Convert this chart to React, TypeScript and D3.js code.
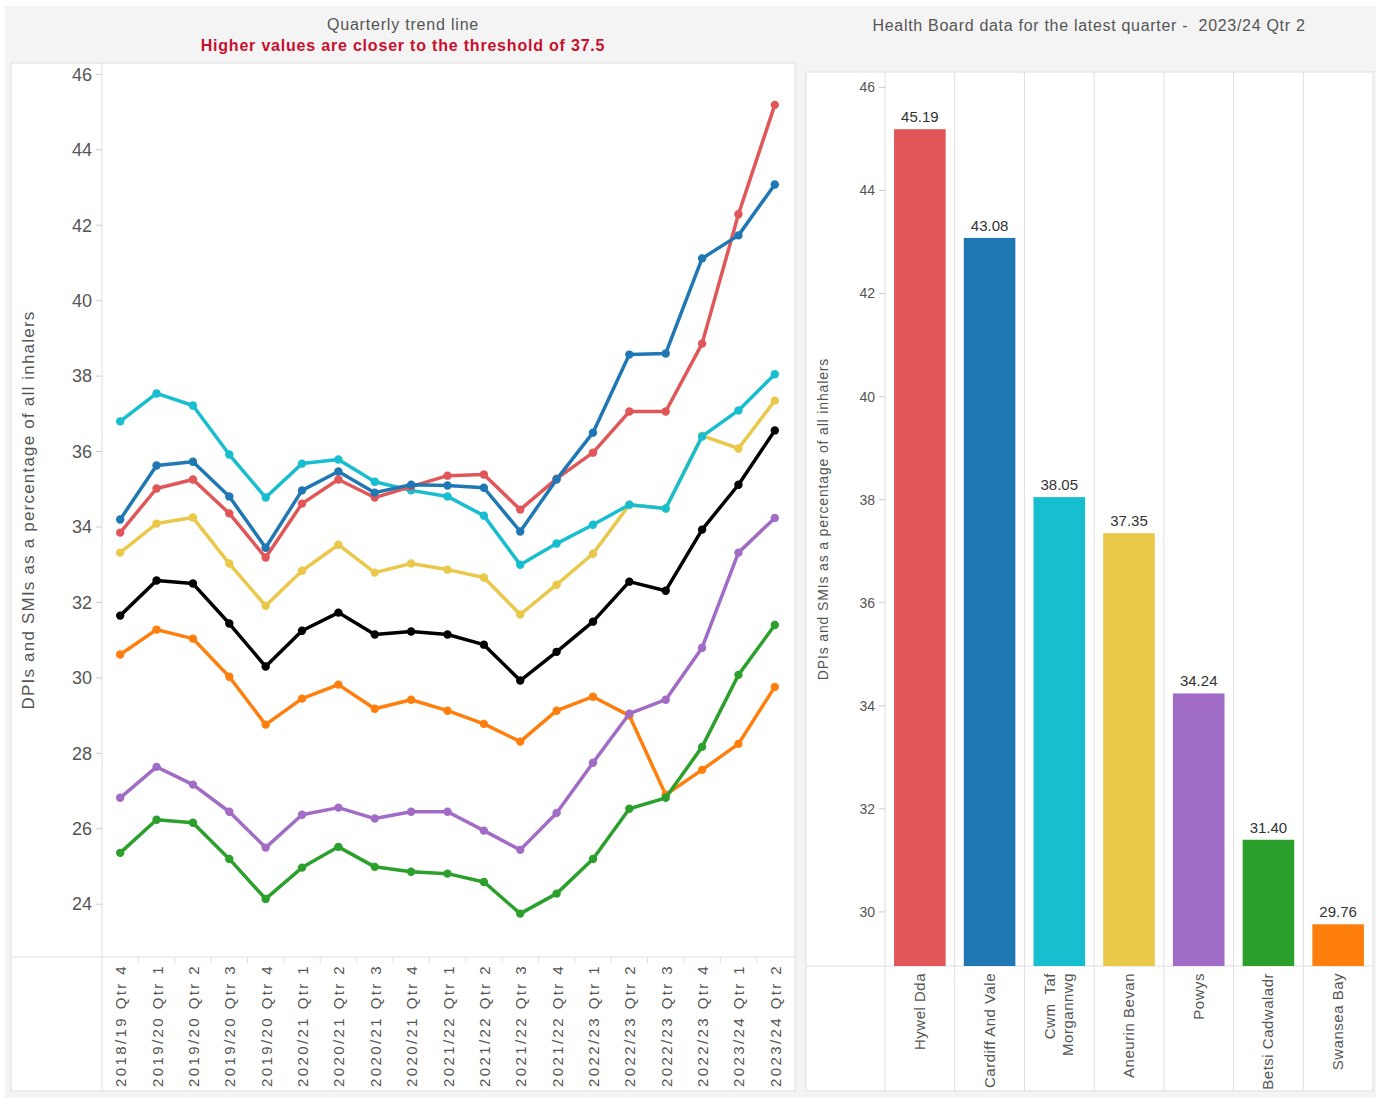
import { useEffect, useRef } from "react";
import * as d3 from "d3";

// Quarter labels for the trend chart
const quarters = [
  "2018/19 Qtr 4", "2019/20 Qtr 1", "2019/20 Qtr 2", "2019/20 Qtr 3", "2019/20 Qtr 4",
  "2020/21 Qtr 1", "2020/21 Qtr 2", "2020/21 Qtr 3", "2020/21 Qtr 4", "2021/22 Qtr 1",
  "2021/22 Qtr 2", "2021/22 Qtr 3", "2021/22 Qtr 4", "2022/23 Qtr 1", "2022/23 Qtr 2",
  "2022/23 Qtr 3", "2022/23 Qtr 4", "2023/24 Qtr 1", "2023/24 Qtr 2",
];

// Quarterly series (% DPIs and SMIs)
const swanseaBay = [30.62, 31.28, 31.04, 30.03, 28.76, 29.45, 29.82, 29.18, 29.42, 29.13, 28.78, 28.31, 29.13, 29.5, 29.0, 26.9, 27.56, 28.25, 29.76];
const powys = [26.82, 27.64, 27.17, 26.45, 25.5, 26.37, 26.56, 26.27, 26.45, 26.45, 25.95, 25.44, 26.42, 27.75, 29.05, 29.42, 30.8, 33.32, 34.24];
const betsiCadwaladr = [25.36, 26.24, 26.16, 25.2, 24.14, 24.97, 25.52, 24.99, 24.86, 24.81, 24.59, 23.75, 24.28, 25.2, 26.53, 26.82, 28.17, 30.08, 31.4];
const aneurinBevan = [33.32, 34.09, 34.25, 33.03, 31.91, 32.84, 33.53, 32.79, 33.03, 32.87, 32.66, 31.68, 32.47, 33.29, 34.59, 34.49, 36.42, 36.08, 37.35];
const cwmTaf = [36.8, 37.54, 37.22, 35.92, 34.78, 35.68, 35.79, 35.2, 34.97, 34.81, 34.3, 33.0, 33.56, 34.06, 34.59, 34.49, 36.4, 37.09, 38.05];
const hywelDda = [33.85, 35.02, 35.26, 34.36, 33.19, 34.62, 35.26, 34.78, 35.07, 35.36, 35.39, 34.46, 35.28, 35.97, 37.06, 37.06, 38.86, 42.29, 45.19];
const cardiffVale = [34.2, 35.63, 35.73, 34.81, 33.45, 34.97, 35.47, 34.91, 35.12, 35.1, 35.04, 33.88, 35.26, 36.5, 38.57, 38.6, 41.12, 41.73, 43.08];
const wales = [31.65, 32.58, 32.5, 31.44, 30.3, 31.25, 31.73, 31.15, 31.23, 31.15, 30.88, 29.93, 30.69, 31.49, 32.55, 32.31, 33.93, 35.12, 36.56];

const lineTicks = [24, 26, 28, 30, 32, 34, 36, 38, 40, 42, 44, 46];

// Latest quarter by health board
const boards = ["Hywel Dda", "Cardiff And Vale", "Cwm Taf Morgannwg", "Aneurin Bevan", "Powys", "Betsi Cadwaladr", "Swansea Bay"];
const latestValues = [45.19, 43.08, 38.05, 37.35, 34.24, 31.4, 29.76];
const barTicks = [30, 32, 34, 36, 38, 40, 42, 44, 46];

const COLORS: Record<string, string> = {
  "Hywel Dda": "#e15759",
  "Cardiff And Vale": "#1f77b4",
  "Cwm Taf Morgannwg": "#17becf",
  "Aneurin Bevan": "#eac84a",
  "Powys": "#a16cc5",
  "Betsi Cadwaladr": "#2ca02c",
  "Swansea Bay": "#ff7f0e",
  "Wales": "#000000",
};

const FONT = "Arial, 'Liberation Sans', sans-serif";

export default function App() {
  const svgRef = useRef<SVGSVGElement>(null);

  useEffect(() => {
    document.body.style.margin = "0";
    if (!svgRef.current) return;
    const svg = d3.select(svgRef.current);
    svg.selectAll("*").remove();
    svg.attr("font-family", FONT);

    // background frame
    svg.append("rect").attr("x", 5).attr("y", 6).attr("width", 1371).attr("height", 1092).attr("fill", "#f4f4f4");

    // ---------- Left: quarterly trend ----------
    const L = { left: 102, right: 793, top: 63, bottom: 957, boxLeft: 11, labelBottom: 1091 };
    svg.append("rect")
      .attr("x", L.boxLeft).attr("y", L.top)
      .attr("width", L.right + 2 - L.boxLeft).attr("height", L.labelBottom - L.top)
      .attr("fill", "#fff").attr("stroke", "#dedede");

    svg.append("text").attr("x", 403).attr("y", 30).attr("text-anchor", "middle")
      .attr("font-size", 16).attr("letter-spacing", 0.8).attr("fill", "#555").text("Quarterly trend line");
    svg.append("text").attr("x", 403).attr("y", 51).attr("text-anchor", "middle")
      .attr("font-size", 16).attr("font-weight", 600).attr("letter-spacing", 0.8).attr("fill", "#c8102e")
      .text("Higher values are closer to the threshold of 37.5");

    const x = d3.scaleBand<string>().domain(quarters).range([L.left, L.right]);
    const y = d3.scaleLinear().domain([22.6, 46.3]).range([L.bottom, L.top]);

    const g = svg.append("g");
    g.append("line").attr("x1", L.boxLeft).attr("x2", L.right + 2).attr("y1", L.bottom).attr("y2", L.bottom).attr("stroke", "#dedede");
    g.append("line").attr("x1", L.left).attr("x2", L.left).attr("y1", L.top).attr("y2", L.labelBottom).attr("stroke", "#dedede");

    // y ticks
    lineTicks.forEach((t) => {
      g.append("line").attr("x1", L.left - 6).attr("x2", L.left).attr("y1", y(t)).attr("y2", y(t)).attr("stroke", "#ccc");
      g.append("text").attr("x", L.left - 10).attr("y", y(t)).attr("dy", "0.35em")
        .attr("text-anchor", "end").attr("font-size", 18).attr("fill", "#555").text(t);
    });
    g.append("text")
      .attr("transform", `translate(34,${(L.top + L.bottom) / 2}) rotate(-90)`)
      .attr("text-anchor", "middle").attr("font-size", 17).attr("letter-spacing", 1.2).attr("fill", "#555")
      .text("DPIs and SMIs as a percentage of all inhalers");

    // x labels + boundary ticks
    quarters.forEach((q, i) => {
      const bx = x(q)!;
      if (i > 0) {
        g.append("line").attr("x1", bx).attr("x2", bx).attr("y1", L.bottom).attr("y2", L.bottom + 6).attr("stroke", "#ddd");
      }
      const cx = bx + x.bandwidth() / 2 + 6;
      g.append("text")
        .attr("transform", `translate(${cx},${L.bottom + 7}) rotate(-90)`)
        .attr("text-anchor", "end").attr("font-size", 15).attr("letter-spacing", 2.4)
        .attr("fill", "#555").text(q);
    });

    const series: [string, number[]][] = [
      ["Swansea Bay", swanseaBay],
      ["Powys", powys],
      ["Betsi Cadwaladr", betsiCadwaladr],
      ["Aneurin Bevan", aneurinBevan],
      ["Cwm Taf Morgannwg", cwmTaf],
      ["Hywel Dda", hywelDda],
      ["Cardiff And Vale", cardiffVale],
      ["Wales", wales],
    ];
    const line = d3.line<number>()
      .x((_, i) => x(quarters[i])! + x.bandwidth() / 2)
      .y((d) => y(d));

    series.forEach(([name, vals]) => {
      const sg = g.append("g");
      sg.append("path").attr("d", line(vals)).attr("fill", "none")
        .attr("stroke", COLORS[name]).attr("stroke-width", 3.5).attr("stroke-linejoin", "round");
      sg.selectAll("circle").data(vals).enter().append("circle")
        .attr("cx", (_, i) => x(quarters[i])! + x.bandwidth() / 2)
        .attr("cy", (d) => y(d)).attr("r", 4.2).attr("fill", COLORS[name]);
    });

    // ---------- Right: latest quarter bars ----------
    const R = { axisLeft: 885, right: 1373, top: 72, bottom: 966, boxLeft: 806, labelBottom: 1091 };
    svg.append("rect")
      .attr("x", R.boxLeft).attr("y", R.top)
      .attr("width", R.right - R.boxLeft).attr("height", R.labelBottom - R.top)
      .attr("fill", "#fff").attr("stroke", "#dedede");
    svg.append("text").attr("x", 1089).attr("y", 31).attr("text-anchor", "middle")
      .attr("font-size", 16).attr("letter-spacing", 0.7).attr("fill", "#555")
      .style("white-space", "pre")
      .text("Health Board data for the latest quarter -  2023/24 Qtr 2");

    const bx = d3.scaleBand<string>().domain(boards).range([R.axisLeft, R.right]);
    const by = d3.scaleLinear().domain([28.95, 46.3]).range([R.bottom, R.top]);
    const b = svg.append("g");

    b.append("line").attr("x1", R.boxLeft).attr("x2", R.right).attr("y1", R.bottom).attr("y2", R.bottom).attr("stroke", "#dedede");
    boards.forEach((name) => {
      const x0 = bx(name)!;
      b.append("line").attr("x1", x0).attr("x2", x0).attr("y1", R.top).attr("y2", R.labelBottom).attr("stroke", "#dedede");
    });

    barTicks.forEach((t) => {
      b.append("line").attr("x1", R.axisLeft - 6).attr("x2", R.axisLeft).attr("y1", by(t)).attr("y2", by(t)).attr("stroke", "#ccc");
      b.append("text").attr("x", R.axisLeft - 10).attr("y", by(t)).attr("dy", "0.35em")
        .attr("text-anchor", "end").attr("font-size", 14).attr("fill", "#555").text(t);
    });
    b.append("text")
      .attr("transform", `translate(828,519) rotate(-90)`)
      .attr("text-anchor", "middle").attr("font-size", 14).attr("letter-spacing", 0.85).attr("fill", "#555")
      .text("DPIs and SMIs as a percentage of all inhalers");

    const barW = bx.bandwidth() * 0.74;
    boards.forEach((name, i) => {
      const v = latestValues[i];
      const cx = bx(name)! + bx.bandwidth() / 2;
      b.append("rect").attr("x", cx - barW / 2).attr("y", by(v))
        .attr("width", barW).attr("height", R.bottom - by(v)).attr("fill", COLORS[name]);
      b.append("text").attr("x", cx).attr("y", by(v) - 7).attr("text-anchor", "middle")
        .attr("font-size", 15).attr("fill", "#333").text(v.toFixed(2));

      const lines = name === "Cwm Taf Morgannwg" ? ["Cwm  Taf", "Morgannwg"] : [name];
      lines.forEach((ln, j) => {
        const off = (j - (lines.length - 1) / 2) * 18;
        b.append("text")
          .attr("transform", `translate(${cx + off + 5},${R.bottom + 7}) rotate(-90)`)
          .attr("text-anchor", "end").attr("font-size", 15).attr("letter-spacing", 0.5).attr("fill", "#555")
          .style("white-space", "pre").text(ln);
      });
    });
  }, []);

  return <svg ref={svgRef} width={1377} height={1099} style={{ display: "block" }} />;
}
